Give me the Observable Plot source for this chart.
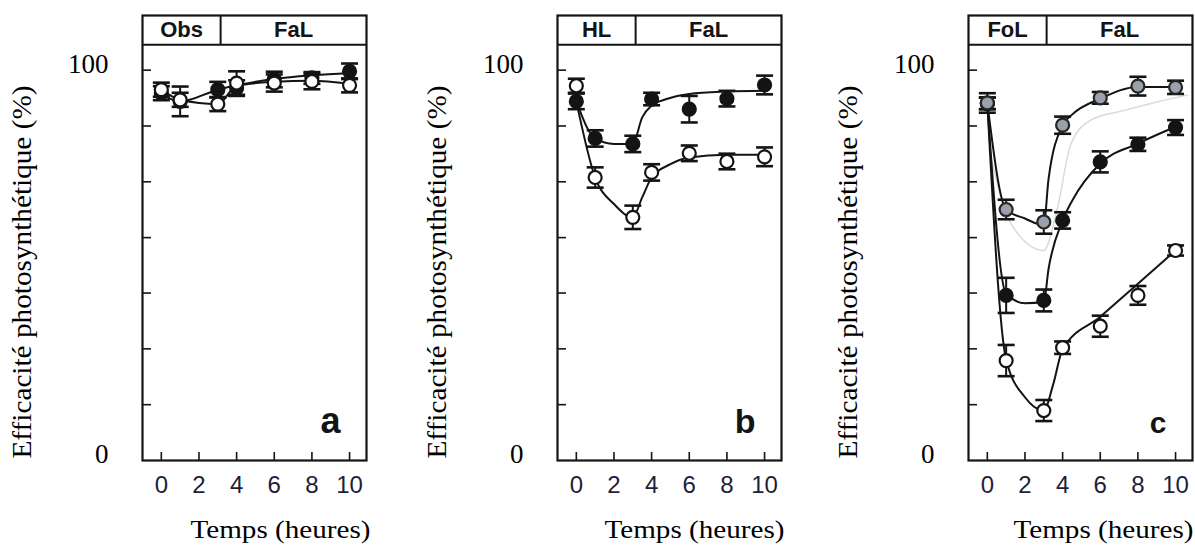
<!DOCTYPE html>
<html><head><meta charset="utf-8">
<script src="https://cdn.jsdelivr.net/npm/d3@7"></script>
<script src="https://cdn.jsdelivr.net/npm/@observablehq/plot@0.6"></script>
<style>
html,body{margin:0;padding:0;background:#fff;}
#wrap{position:relative;width:1195px;height:548px;overflow:hidden;background:#fff;}
#wrap svg{position:absolute;top:0;}
</style></head><body><div id="wrap"></div>
<script>
// ---- data ----
const times = [0, 1, 3, 4, 6, 8, 10];
const xTicks = [0, 2, 4, 6, 8, 10];
const yTicks = [14.3, 28.6, 42.9, 57.1, 71.4, 85.7, 100];
const yLabels = [0, 100];
const switchTime = 3.15;
const yTitle = "Efficacité photosynthétique (%)";
const xTitle = "Temps (heures)";

// panel a
const aOpen = [95.0, 92.4, 91.3, 96.7, 96.7, 97.1, 96.1];
const aOpenErr = [1.8, 1.8, 1.8, 3.0, 2.2, 2.0, 1.8];
const aFilled = [94.1, 92.0, 95.0, 95.4, 97.6, 98.0, 99.7];
const aFilledErr = [1.8, 3.8, 2.0, 2.0, 2.0, 1.5, 2.0];
const aOpenFitT = [0, 1, 3, 4, 6, 8, 10];
const aOpenFitV = [95.0, 92.4, 91.3, 96.0, 97.0, 97.3, 96.5];
const aFilledFitT = [0, 1, 3, 4.2, 6.1, 8.1, 10];
const aFilledFitV = [93.7, 92.0, 95.0, 96.3, 97.8, 98.7, 99.3];

// panel b
const bOpen = [96.0, 72.5, 62.3, 73.8, 78.7, 76.6, 77.8];
const bOpenErr = [1.8, 2.6, 3.0, 2.1, 2.0, 2.0, 2.4];
const bFilled = [92.0, 82.5, 81.1, 92.6, 90.0, 92.7, 96.2];
const bFilledErr = [2.0, 2.1, 2.1, 1.6, 3.4, 2.0, 2.4];
const bOpenFitT = [0, 1, 2, 3, 3.5, 4, 5, 6, 8, 10];
const bOpenFitV = [92.0, 72.5, 65.7, 62.3, 67.4, 72.5, 75.9, 77.6, 78.3, 78.3];
const bFilledFitT = [0, 1, 2, 3, 3.5, 4, 4.8, 6, 8, 10];
const bFilledFitV = [92.0, 82.5, 81.1, 81.1, 87.9, 90.9, 92.6, 93.9, 94.5, 94.7];

// panel c
const cOpen = [91.5, 25.6, 12.8, 28.9, 34.4, 42.3, 53.8];
const cOpenErr = [1.5, 4.0, 2.7, 1.6, 2.7, 2.4, 1.3];
const cFilled = [91.5, 42.3, 41.0, 61.5, 76.5, 81.0, 85.3];
const cFilledErr = [1.5, 4.5, 2.8, 2.1, 2.7, 1.7, 1.9];
const cGray = [91.6, 64.3, 61.1, 85.9, 92.9, 95.9, 95.6];
const cGrayErr = [2.5, 2.5, 3.0, 2.2, 1.5, 2.4, 1.7];
const cOpenFitT = [0, 1, 2, 3, 3.5, 4, 6, 8, 10];
const cOpenFitV = [91.5, 25.8, 16.2, 12.8, 19.5, 28.5, 36.8, 45.3, 53.8];
const cFilledFitT = [0, 1, 2, 3, 3.25, 4, 4.5, 6, 8, 10];
const cFilledFitV = [91.5, 42.7, 40.3, 40.6, 49.0, 61.5, 66.5, 76.1, 81.2, 85.5];
const cGrayFitT = [0, 1, 2, 3, 3.25, 4, 4.5, 6, 8, 10];
const cGrayFitV = [91.6, 64.3, 62.0, 60.3, 72.0, 85.9, 88.6, 92.7, 95.7, 95.7];
const cGhostT = [0.1, 1.25, 3, 3.7, 4.45, 5.5, 7.3, 9.05, 10.65];
const cGhostV = [79.5, 60.7, 53.8, 64.1, 81.2, 87.2, 89.7, 91.9, 93.6];

// ---- helpers ----
const rows = (vals, errs) => times.map((t, i) => ({t, v: vals[i], e: errs[i]}));
const pts = (T, V) => T.map((t, i) => ({t, v: V[i]}));
const cap = {draw(ctx, size) { const w = Math.sqrt(size / Math.PI); ctx.moveTo(-w, 0); ctx.lineTo(w, 0); }};
const INK = "#141414";
const SERIF = "'Liberation Serif', 'Times New Roman', Times, serif";
const SANS = "'Liberation Sans', Arial, Helvetica, sans-serif";
const xMin = -1, xMax = 10.9, yMax = 114, headerBase = 106.5;

const STYLE = {
  open: {fill: "#ffffff", stroke: INK},
  filled: {fill: INK, stroke: INK},
  gray: {fill: "#9aa1ab", stroke: "#262626"}
};

function makePanel(cfg) {
  const marks = [];
  if (cfg.ghost) marks.push(Plot.line(cfg.ghost, {x: "t", y: "v", curve: "monotone-x", stroke: "#dadada", strokeWidth: 1.5}));
  for (const f of cfg.fits) marks.push(Plot.line(f, {x: "t", y: "v", curve: "monotone-x", stroke: INK, strokeWidth: 2}));
  for (const s of cfg.series) {
    marks.push(Plot.ruleX(s.data, {x: "t", y1: d => d.v - d.e, y2: d => d.v + d.e, stroke: INK, strokeWidth: 2}));
    marks.push(Plot.dot(s.data, {x: "t", y: d => d.v + d.e, symbol: cap, r: 8.5, fill: "none", stroke: INK, strokeWidth: 2.6}));
    marks.push(Plot.dot(s.data, {x: "t", y: d => d.v - d.e, symbol: cap, r: 8.5, fill: "none", stroke: INK, strokeWidth: 2.6}));
    marks.push(Plot.dot(s.data, {x: "t", y: "v", r: 6.5, fill: STYLE[s.kind].fill, stroke: STYLE[s.kind].stroke, strokeWidth: 2.2}));
  }
  marks.push(Plot.tickY(yTicks, {y: d => d, insetRight: cfg.frameW - 9, stroke: INK, strokeWidth: 1.6}));
  marks.push(Plot.tickX(xTicks, {x: d => d, insetTop: 444 - 7, stroke: INK, strokeWidth: 1.6}));
  marks.push(Plot.ruleY([headerBase], {stroke: INK, strokeWidth: 2}));
  marks.push(Plot.ruleX([switchTime], {y1: headerBase, y2: yMax, stroke: INK, strokeWidth: 2}));
  const heads = [
    {label: cfg.headers[0], x: (xMin + switchTime) / 2},
    {label: cfg.headers[1], x: (switchTime + xMax) / 2}
  ];
  marks.push(Plot.text(heads, {x: "x", y: (headerBase + yMax) / 2, text: "label", fontFamily: SANS, fontWeight: "bold", fontSize: 22, fill: INK, lineAnchor: "middle"}));
  marks.push(Plot.frame({stroke: INK, strokeWidth: 2.2}));
  marks.push(Plot.text([cfg.letter], {text: d => d, frameAnchor: "bottom-right", textAnchor: "end", lineAnchor: "bottom", dx: -26, dy: -28, fontFamily: SANS, fontWeight: "bold", fontSize: cfg.letterSize, fill: INK}));
  marks.push(Plot.text(xTicks, {x: d => d, text: d => String(d), frameAnchor: "bottom", lineAnchor: "top", dy: 15, fontFamily: SANS, fontSize: 24, fill: "#1e1e38"}));
  marks.push(Plot.text(yLabels, {y: d => d, text: d => String(d), frameAnchor: "left", textAnchor: "end", lineAnchor: "middle", dx: -34, dy: -6, fontFamily: SERIF, fontSize: 27, fill: "#000"}));
  marks.push(Plot.text([yTitle], {text: d => d, frameAnchor: "left", rotate: -90, textAnchor: "middle", lineAnchor: "middle", dx: -120, dy: 34, fontFamily: SERIF, fontSize: 28, fill: "#000"}));
  marks.push(Plot.text([xTitle], {text: d => d, frameAnchor: "bottom-right", textAnchor: "end", lineAnchor: "bottom", dx: cfg.titleDx, dy: 77, fontFamily: SERIF, fontSize: 25, fill: "#000"}));

  const svg = Plot.plot({
    width: cfg.width,
    height: 548,
    marginLeft: 142,
    marginRight: cfg.width - 142 - cfg.frameW,
    marginTop: 15,
    marginBottom: 88,
    x: {domain: [xMin, xMax], axis: null},
    y: {domain: [0, yMax], axis: null},
    style: {background: "transparent", overflow: "visible"},
    marks
  });
  d3.select(svg).selectAll("text").each(function () {
    const s = this.textContent;
    if (s === xTitle) { this.setAttribute("textLength", 180); this.setAttribute("lengthAdjust", "spacingAndGlyphs"); }
    if (s === yTitle) { this.setAttribute("textLength", 373); this.setAttribute("lengthAdjust", "spacingAndGlyphs"); }
  });
  svg.style.left = cfg.left + "px";
  return svg;
}

const wrap = document.getElementById("wrap");
const panels = [
  {left: 0, width: 415, frameW: 224, letter: "a", letterSize: 36, titleDx: 4, headers: ["Obs", "FaL"],
   fits: [pts(aOpenFitT, aOpenFitV), pts(aFilledFitT, aFilledFitV)],
   series: [{kind: "filled", data: rows(aFilled, aFilledErr)}, {kind: "open", data: rows(aOpen, aOpenErr)}]},
  {left: 415, width: 411, frameW: 224, letter: "b", letterSize: 34, titleDx: 3, headers: ["HL", "FaL"],
   fits: [pts(bOpenFitT, bOpenFitV), pts(bFilledFitT, bFilledFitV)],
   series: [{kind: "open", data: rows(bOpen, bOpenErr)}, {kind: "filled", data: rows(bFilled, bFilledErr)}]},
  {left: 826, width: 369, frameW: 224, letter: "c", letterSize: 30, titleDx: 1, headers: ["FoL", "FaL"],
   ghost: pts(cGhostT, cGhostV),
   fits: [pts(cOpenFitT, cOpenFitV), pts(cFilledFitT, cFilledFitV), pts(cGrayFitT, cGrayFitV)],
   series: [{kind: "open", data: rows(cOpen, cOpenErr)}, {kind: "filled", data: rows(cFilled, cFilledErr)}, {kind: "gray", data: rows(cGray, cGrayErr)}]}
];
for (const p of panels) wrap.appendChild(makePanel(p));
</script>
</body></html>
